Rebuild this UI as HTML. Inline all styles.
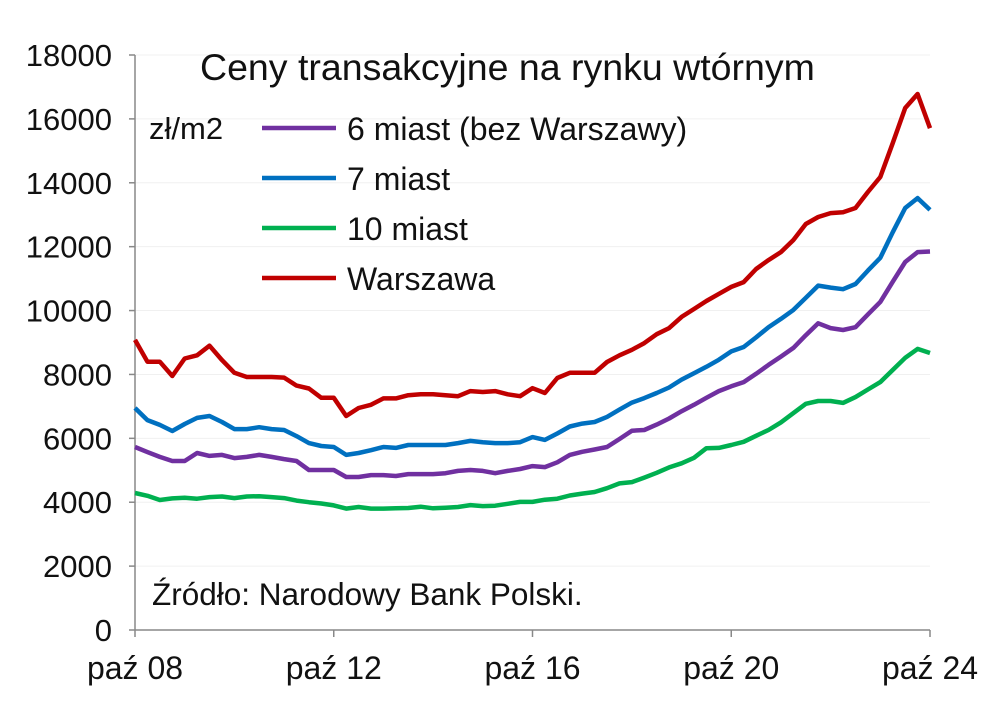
<!DOCTYPE html>
<html><head><meta charset="utf-8"><style>
body{margin:0;background:#fff;}
svg{display:block;font-family:"Liberation Sans",Arial,sans-serif;}
</style></head><body>
<svg id="chart" width="1000" height="704">
<g id="grid"></g>
<g id="yaxis"></g>
<g id="xaxis"></g>
<g id="series"></g>
<text x="200" y="80" font-size="37.5" fill="#111">Ceny transakcyjne na rynku wtórnym</text>
<text x="149" y="139" font-size="31" fill="#111">zł/m2</text>
<g>
<g><line x1="262" y1="128" x2="336" y2="128" stroke="#7030a0" stroke-width="4.5"/><text x="347" y="140" font-size="32" fill="#111">6 miast (bez Warszawy)</text></g>
<g><line x1="262" y1="178" x2="336" y2="178" stroke="#0070c0" stroke-width="4.5"/><text x="347" y="190" font-size="32" fill="#111">7 miast</text></g>
<g><line x1="262" y1="228" x2="336" y2="228" stroke="#00b050" stroke-width="4.5"/><text x="347" y="240" font-size="32" fill="#111">10 miast</text></g>
<g><line x1="262" y1="278" x2="336" y2="278" stroke="#c00000" stroke-width="4.5"/><text x="347" y="290" font-size="32" fill="#111">Warszawa</text></g>
</g>
<text x="152" y="605" font-size="31.5" fill="#111">Źródło: Narodowy Bank Polski.</text>
</svg>
<script>
const yTicks=[0,2000,4000,6000,8000,10000,12000,14000,16000,18000];
const xLabels=["paź 08","paź 12","paź 16","paź 20","paź 24"];
const warszawa=[9080,8400,8400,7950,8500,8600,8900,8450,8050,7920,7920,7920,7900,7650,7560,7270,7270,6700,6950,7050,7250,7250,7350,7380,7380,7350,7320,7480,7450,7480,7380,7320,7570,7420,7890,8050,8050,8050,8390,8600,8770,8980,9260,9450,9800,10050,10300,10520,10740,10890,11300,11580,11830,12210,12710,12930,13050,13080,13210,13710,14180,15240,16340,16780,15710];
const miast7=[6950,6570,6420,6230,6450,6640,6700,6510,6290,6290,6350,6290,6260,6070,5850,5760,5730,5480,5540,5630,5730,5700,5790,5790,5790,5790,5850,5920,5880,5850,5850,5880,6040,5950,6150,6370,6460,6510,6670,6900,7120,7260,7420,7590,7840,8040,8240,8460,8720,8860,9160,9480,9740,10020,10400,10780,10720,10670,10830,11250,11650,12450,13210,13520,13150];
const miast6=[5730,5570,5420,5290,5290,5540,5450,5480,5380,5420,5480,5420,5350,5290,5010,5010,5010,4790,4790,4850,4850,4820,4880,4880,4880,4910,4980,5010,4980,4910,4980,5040,5130,5100,5250,5480,5580,5650,5730,5980,6240,6260,6430,6620,6850,7050,7270,7480,7630,7760,8020,8300,8560,8830,9230,9600,9450,9390,9480,9880,10270,10900,11520,11830,11850];
const miast10=[4290,4200,4070,4120,4140,4110,4160,4180,4130,4180,4190,4160,4130,4050,4000,3960,3900,3800,3850,3800,3800,3810,3820,3860,3810,3830,3850,3910,3880,3890,3950,4010,4010,4080,4110,4210,4270,4320,4440,4590,4630,4770,4920,5090,5220,5390,5690,5700,5790,5890,6080,6260,6500,6790,7080,7170,7170,7110,7290,7530,7760,8140,8520,8800,8670];
const NS="http://www.w3.org/2000/svg";
const X0=135,X1=930,Y0=630,Y1=55,YMAX=18000;
const n=warszawa.length;
function xs(i){return X0+(X1-X0)*i/(n-1);}
function ys(v){return Y0-(Y0-Y1)*v/YMAX;}
function mk(tag,attrs,parent){const e=document.createElementNS(NS,tag);for(const k in attrs)e.setAttribute(k,attrs[k]);parent.appendChild(e);return e;}
const grid=document.getElementById('grid'),ya=document.getElementById('yaxis'),xa=document.getElementById('xaxis'),sg=document.getElementById('series');
yTicks.forEach(v=>{
  const y=ys(v);
  if(v>0){const g=mk('line',{x1:X0,x2:X1,y1:y,y2:y,stroke:'#f0f0f0','stroke-width':1},grid);
  
  }
  const t=mk('line',{x1:X0-6,x2:X0,y1:y,y2:y,stroke:'#888','stroke-width':1.5},ya);
  
  
  const l=mk('text',{x:112,y:y+11,'text-anchor':'end','font-size':31,fill:'#111'},ya);
  l.textContent=v;
  
  
});
const ax=mk('line',{x1:X0,x2:X0,y1:Y1,y2:Y0,stroke:'#888','stroke-width':1.5},ya);


const bx=mk('line',{x1:X0,x2:X1,y1:Y0,y2:Y0,stroke:'#888','stroke-width':1.5},xa);


xLabels.forEach((lab,k)=>{
  const x=X0+(X1-X0)*k/(xLabels.length-1);
  const t=mk('line',{x1:x,x2:x,y1:Y0,y2:Y0+7,stroke:'#888','stroke-width':1.5},xa);
  
  
  const l=mk('text',{x:x,y:679,'text-anchor':'middle','font-size':32,fill:'#111'},xa);
  l.textContent=lab;
  
  
});
[[miast10,'#00b050','line-10-miast'],[miast6,'#7030a0','line-6-miast'],[miast7,'#0070c0','line-7-miast'],[warszawa,'#c00000','line-warszawa']].forEach(([d,c,nm])=>{
  const p=mk('polyline',{points:d.map((v,i)=>xs(i).toFixed(1)+','+ys(v).toFixed(1)).join(' '),fill:'none',stroke:c,'stroke-width':4.5,'stroke-linejoin':'round'},sg);
  
  
});
</script>
</body></html>
